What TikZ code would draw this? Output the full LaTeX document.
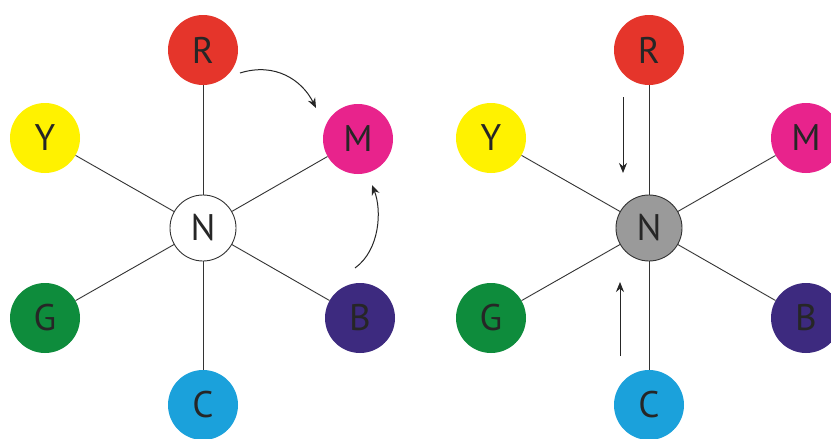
\documentclass[tikz,border=0pt]{standalone}
\usepackage{fontspec}
\setsansfont{PT Sans}
\usetikzlibrary{arrows.meta}
\definecolor{cR}{HTML}{E5352B}
\definecolor{cY}{HTML}{FFF200}
\definecolor{cM}{HTML}{E8238C}
\definecolor{cG}{HTML}{0E8C3C}
\definecolor{cB}{HTML}{3D2A7F}
\definecolor{cC}{HTML}{1BA1DB}
\definecolor{cN}{HTML}{9A9A9A}
\begin{document}
\begin{tikzpicture}[x=1pt,y=-1pt,
  ball/.style={circle,minimum size=70pt,inner sep=0pt,font=\sffamily\fontsize{37}{37}\selectfont,text=black!85},
  hub/.style={circle,draw=black!80,line width=0.9pt,minimum size=66pt,inner sep=0pt,font=\sffamily\fontsize{37}{37}\selectfont,text=black!85},
  spoke/.style={draw=black!80,line width=0.9pt},
  mv/.style={-{Stealth[length=10pt,width=8pt]},line width=1pt,black!85}]
\useasboundingbox (0,0) rectangle (831,439);
\fill[white] (0,0) rectangle (831,439);
% left wheel
\node[hub,fill=white] (N1) at (203,228) {N};
\node[ball,fill=cR] (R1) at (203,50) {R};
\node[ball,fill=cY] (Y1) at (45,138) {Y};
\node[ball,fill=cM] (M1) at (358,139) {M};
\node[ball,fill=cG] (G1) at (45,318) {G};
\node[ball,fill=cB] (B1) at (360,318) {B};
\node[ball,fill=cC] (C1) at (203,405) {C};
\foreach \n in {R1,Y1,M1,G1,B1,C1} \draw[spoke] (N1) -- (\n);
% right wheel
\node[hub,fill=cN] (N2) at (649,228) {N};
\node[ball,fill=cR] (R2) at (649,50) {R};
\node[ball,fill=cY] (Y2) at (491,138) {Y};
\node[ball,fill=cM] (M2) at (806,138) {M};
\node[ball,fill=cG] (G2) at (491,318) {G};
\node[ball,fill=cB] (B2) at (806,318) {B};
\node[ball,fill=cC] (C2) at (649,405) {C};
\foreach \n in {R2,Y2,M2,G2,B2,C2} \draw[spoke] (N2) -- (\n);
% arrows
\coordinate (a1s) at (240,73);
\coordinate (a1e) at (316,108);
\draw[mv] (a1s) .. controls (275,62) and (302,80) .. (a1e);
\coordinate (a2s) at (355,268);
\coordinate (a2e) at (372,185);
\draw[mv] (a2s) .. controls (380,250) and (382,210) .. (a2e);
\coordinate (a3s) at (623,97);
\coordinate (a3e) at (623,173);
\draw[mv] (a3s) -- (a3e);
\coordinate (a4s) at (620,356);
\coordinate (a4e) at (620,282);
\draw[mv] (a4s) -- (a4e);
\end{tikzpicture}
\end{document}
